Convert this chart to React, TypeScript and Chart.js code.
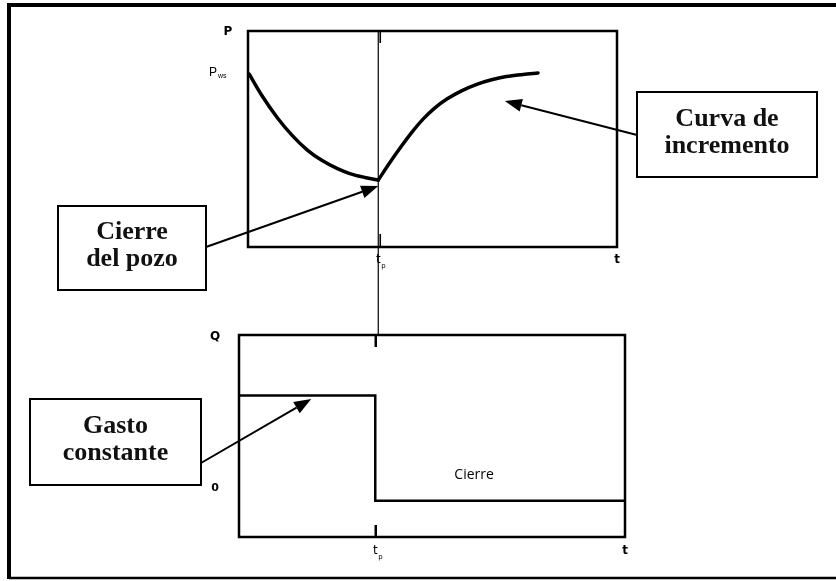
import { useEffect, useRef } from "react";
import { Chart, registerables } from "chart.js";

Chart.register(...registerables);

// ---------- data ----------
const tp = 0.353; // shut-in time (fraction of the time span)
const tEnd = 1;

const drawdownTime = [0.003, 0.038, 0.081, 0.119, 0.16, 0.201, 0.241, 0.276, 0.317, 0.353];
const drawdownPressure = [80.1, 70.0, 59.5, 51.8, 45.0, 40.0, 36.4, 34.0, 32.2, 31.0];

const buildupTime = [0.353, 0.385, 0.415, 0.445, 0.475, 0.505, 0.54, 0.58, 0.62, 0.66, 0.7, 0.745, 0.786];
const buildupPressure = [31.0, 39.2, 46.5, 53.3, 59.3, 64.2, 68.6, 72.4, 75.3, 77.4, 78.9, 79.9, 80.6];

const rateTime = [0, tp, tp, tEnd];
const rateValues = [52, 52, 0, 0];

const pressureTickValues = [80.6];
const pressureTickMain = ["P"];
const pressureTickSub = ["ws"];

const rateTickValues = [0];
const rateTickLabels = ["0"];

const timeTickValues = [tp, tEnd];
const timeTickMain = ["t", "t"];
const timeTickSub = ["p", ""];

const pressureAxisTitle = "P";
const rateAxisTitle = "Q";
const closedLabel = "Cierre";
const closedLabelAt = [0.609, 12.7];

const noteTexts = [
  ["Curva de", "incremento"],
  ["Cierre", "del pozo"],
  ["Gasto", "constante"],
];

// ---------- layout ----------
const W = 836;
const H = 581;
const TOP_AREA = { left: 248, top: 31, right: 617, bottom: 247 };
const BOT_AREA = { left: 239, top: 335, right: 625, bottom: 537 };

const NOTE_LAYOUT = [
  { box: [637, 92, 180, 85], tail: [637, 135], chart: 0, target: [0.696, 67.6] },
  { box: [58, 206, 148, 84], tail: [206, 247], chart: 0, target: [tp, 28.2] },
  { box: [30, 399, 171, 86], tail: [201, 463], chart: 1, target: [0.187, 50.3] },
];

function drawArrow(ctx: CanvasRenderingContext2D, x1: number, y1: number, x2: number, y2: number) {
  const ang = Math.atan2(y2 - y1, x2 - x1);
  const len = 17;
  const half = 6.5;
  const bx = x2 - len * Math.cos(ang);
  const by = y2 - len * Math.sin(ang);
  ctx.save();
  ctx.strokeStyle = "#000";
  ctx.fillStyle = "#000";
  ctx.lineWidth = 2;
  ctx.beginPath();
  ctx.moveTo(x1, y1);
  ctx.lineTo(bx, by);
  ctx.stroke();
  ctx.beginPath();
  ctx.moveTo(x2, y2);
  ctx.lineTo(bx + half * Math.sin(ang), by - half * Math.cos(ang));
  ctx.lineTo(bx - half * Math.sin(ang), by + half * Math.cos(ang));
  ctx.closePath();
  ctx.fill();
  ctx.restore();
}

function drawSubLabel(ctx: CanvasRenderingContext2D, main: string, sub: string, x: number, y: number, bold: boolean) {
  ctx.save();
  ctx.fillStyle = "#000";
  ctx.textBaseline = "middle";
  ctx.textAlign = "center";
  ctx.font = (bold ? "bold " : "") + "12px 'DejaVu Sans'";
  ctx.fillText(main, x, y);
  if (sub) {
    ctx.textAlign = "left";
    ctx.font = "7px 'DejaVu Sans'";
    ctx.fillText(sub, x + 3, y + 6);
  }
  ctx.restore();
}

function vline(ctx: CanvasRenderingContext2D, x: number, y1: number, y2: number, w: number) {
  ctx.save();
  ctx.strokeStyle = "#000";
  ctx.lineWidth = w;
  ctx.beginPath();
  ctx.moveTo(x, y1);
  ctx.lineTo(x, y2);
  ctx.stroke();
  ctx.restore();
}

const topPlugin = {
  id: "topDecor",
  afterDraw(chart: any) {
    const ctx: CanvasRenderingContext2D = chart.ctx;
    const a = chart.chartArea;
    const xs = chart.scales.x;
    const ys = chart.scales.y;
    ctx.save();
    // outer frame
    ctx.strokeStyle = "#000";
    ctx.lineWidth = 4;
    ctx.beginPath();
    ctx.moveTo(W, 5);
    ctx.lineTo(9, 5);
    ctx.lineTo(9, 579);
    ctx.stroke();
    ctx.lineWidth = 2.5;
    ctx.beginPath();
    ctx.moveTo(9, 578);
    ctx.lineTo(W, 578);
    ctx.stroke();
    // plot box
    ctx.lineWidth = 2.5;
    ctx.strokeRect(a.left, a.top, a.right - a.left, a.bottom - a.top);
    ctx.restore();

    // tp ticks
    timeTickValues.forEach((v, i) => {
      const x = xs.getPixelForValue(v);
      if (timeTickSub[i]) {
        vline(ctx, x + 2, a.top, a.top + 12, 1.6);
        vline(ctx, x + 2, a.bottom - 13, a.bottom, 1.6);
      }
      drawSubLabel(ctx, timeTickMain[i], timeTickSub[i], x, a.bottom + 13, !timeTickSub[i]);
    });

    // axis title
    ctx.save();
    ctx.fillStyle = "#000";
    ctx.font = "bold 12px 'DejaVu Sans'";
    ctx.textAlign = "center";
    ctx.textBaseline = "middle";
    ctx.fillText(pressureAxisTitle, a.left - 20, a.top + 1);
    // P_ws
    pressureTickValues.forEach((v, i) => {
      const y = ys.getPixelForValue(v);
      ctx.font = "12px 'Liberation Sans'";
      ctx.textAlign = "right";
      ctx.fillText(pressureTickMain[i], a.left - 31, y);
      ctx.font = "7px 'Liberation Sans'";
      ctx.textAlign = "left";
      ctx.fillText(pressureTickSub[i], a.left - 30, y + 3);
    });
    ctx.restore();
  },
};

function makeBottomPlugin(topChart: any) {
  return {
    id: "bottomDecor",
    afterDraw(chart: any) {
      const ctx: CanvasRenderingContext2D = chart.ctx;
      const a = chart.chartArea;
      const xs = chart.scales.x;
      const ys = chart.scales.y;
      const ta = topChart.chartArea;
      const txs = topChart.scales.x;

      ctx.save();
      ctx.strokeStyle = "#000";
      ctx.lineWidth = 2.5;
      ctx.strokeRect(a.left, a.top, a.right - a.left, a.bottom - a.top);
      ctx.restore();

      // thin connecting line at tp
      vline(ctx, txs.getPixelForValue(tp), ta.top, a.top, 1.2);

      timeTickValues.forEach((v, i) => {
        const x = xs.getPixelForValue(v);
        if (timeTickSub[i]) {
          vline(ctx, x + 0.5, a.top, a.top + 12, 2.5);
          vline(ctx, x + 0.5, a.bottom - 12, a.bottom, 2.5);
        }
        drawSubLabel(ctx, timeTickMain[i], timeTickSub[i], x, a.bottom + 14, !timeTickSub[i]);
      });

      ctx.save();
      ctx.fillStyle = "#000";
      ctx.textAlign = "center";
      ctx.textBaseline = "middle";
      ctx.font = "bold 12px 'DejaVu Sans'";
      ctx.fillText(rateAxisTitle, a.left - 24, a.top + 2);
      ctx.font = "bold 11px 'DejaVu Sans'";
      rateTickValues.forEach((v, i) => {
        ctx.fillText(rateTickLabels[i], a.left - 24, ys.getPixelForValue(v) - 12);
      });
      ctx.font = "14px 'Open Sans'";
      ctx.fillText(closedLabel, xs.getPixelForValue(closedLabelAt[0]), ys.getPixelForValue(closedLabelAt[1]));
      ctx.restore();

      // annotations
      NOTE_LAYOUT.forEach((n, i) => {
        const c = n.chart === 0 ? topChart : chart;
        const tx = c.scales.x.getPixelForValue(n.target[0]);
        const ty = c.scales.y.getPixelForValue(n.target[1]);
        drawArrow(ctx, n.tail[0], n.tail[1], tx, ty);
        const [bx, by, bw, bh] = n.box;
        ctx.save();
        ctx.fillStyle = "#fff";
        ctx.fillRect(bx, by, bw, bh);
        ctx.strokeStyle = "#000";
        ctx.lineWidth = 2;
        ctx.strokeRect(bx, by, bw, bh);
        ctx.fillStyle = "#111";
        ctx.font = "bold 26px 'Liberation Serif'";
        ctx.textAlign = "center";
        ctx.textBaseline = "alphabetic";
        const cx = bx + bw / 2;
        const cy = by + bh / 2;
        ctx.fillText(noteTexts[i][0], cx, cy - 9);
        ctx.fillText(noteTexts[i][1], cx, cy + 18);
        ctx.restore();
      });
    },
  };
}

export default function App() {
  const topRef = useRef<HTMLCanvasElement>(null);
  const botRef = useRef<HTMLCanvasElement>(null);

  useEffect(() => {
    const lineStyle = {
      borderColor: "#000",
      borderWidth: 3.5,
      pointRadius: 0,
      fill: false,
      cubicInterpolationMode: "monotone" as const,
      borderCapStyle: "round" as const,
    };
    const top = new Chart(topRef.current!, {
      type: "line",
      data: {
        datasets: [
          { ...lineStyle, data: drawdownTime.map((t, i) => ({ x: t, y: drawdownPressure[i] })) },
          { ...lineStyle, data: buildupTime.map((t, i) => ({ x: t, y: buildupPressure[i] })) },
        ],
      },
      options: {
        animation: false,
        responsive: false,
        devicePixelRatio: 1,
        events: [],
        layout: {
          padding: {
            left: TOP_AREA.left,
            top: TOP_AREA.top,
            right: W - TOP_AREA.right,
            bottom: H - TOP_AREA.bottom,
          },
        },
        plugins: { legend: { display: false }, tooltip: { enabled: false } },
        scales: {
          x: { type: "linear", min: 0, max: tEnd, display: false },
          y: { type: "linear", min: 0, max: 100, display: false },
        },
      },
      plugins: [topPlugin],
    });

    const bot = new Chart(botRef.current!, {
      type: "line",
      data: {
        datasets: [
          {
            borderColor: "#000",
            borderWidth: 2.5,
            pointRadius: 0,
            fill: false,
            tension: 0,
            data: rateTime.map((t, i) => ({ x: t, y: rateValues[i] })),
          },
        ],
      },
      options: {
        animation: false,
        responsive: false,
        devicePixelRatio: 1,
        events: [],
        layout: {
          padding: {
            left: BOT_AREA.left,
            top: BOT_AREA.top,
            right: W - BOT_AREA.right,
            bottom: H - BOT_AREA.bottom,
          },
        },
        plugins: { legend: { display: false }, tooltip: { enabled: false } },
        scales: {
          x: { type: "linear", min: 0, max: tEnd, display: false },
          y: { type: "linear", min: -18, max: 82, display: false },
        },
      },
      plugins: [makeBottomPlugin(top)],
    });

    return () => {
      bot.destroy();
      top.destroy();
    };
  }, []);

  return (
    <div style={{ position: "fixed", left: 0, top: 0, width: W, height: H, background: "#fff" }}>
      <canvas ref={topRef} width={W} height={H} style={{ position: "absolute", left: 0, top: 0 }} />
      <canvas ref={botRef} width={W} height={H} style={{ position: "absolute", left: 0, top: 0 }} />
    </div>
  );
}
